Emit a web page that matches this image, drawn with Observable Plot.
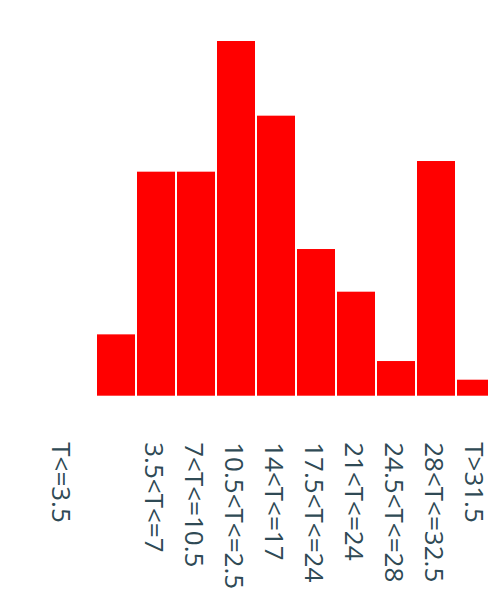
<!DOCTYPE html>
<html>
<head>
<meta charset="utf-8">
<script src="https://cdn.jsdelivr.net/npm/d3@7"></script>
<script src="https://cdn.jsdelivr.net/npm/@observablehq/plot@0.6"></script>
<style>
  html, body { margin: 0; padding: 0; background: #fff; overflow: hidden; }
  #chart svg { overflow: hidden; }
</style>
</head>
<body>
<div id="chart"></div>
<script>
const categories = ["T<=3.5", "3.5<T<=7", "7<T<=10.5", "10.5<T<=2.5", "14<T<=17", "17.5<T<=24", "21<T<=24", "24.5<T<=28", "28<T<=32.5", "T>31.5"];
const counts = [23, 84, 84, 133, 105, 55, 39, 13, 88, 6];

const data = categories.map((c, i) => ({category: c, count: counts[i]}));

const labelStyle = {
  tickSize: 0,
  tickPadding: 46,
  tickRotate: 90,
  fontSize: 26,
  fill: "#2f4a55",
  label: null
};

const chart = Plot.plot({
  width: 488,
  height: 589,
  marginTop: 41,
  marginBottom: 193.3,
  marginLeft: 0,
  marginRight: 0,
  style: {fontFamily: "'Open Sans', sans-serif", background: "#fff", overflow: "hidden"},
  x: {type: "band", domain: categories, range: [95.25, 495.25], paddingInner: 0.0625, paddingOuter: 0.03125, axis: null},
  y: {domain: [0, 133], axis: null},
  marks: [
    Plot.barY(data, {x: "category", y: "count", fill: "#ff0000"}),
    Plot.axisX(categories.slice(1), {...labelStyle, dx: -3}),
    Plot.axisX(categories.slice(0, 1), {...labelStyle, dx: -56})
  ]
});
document.getElementById("chart").appendChild(chart);
</script>
</body>
</html>
